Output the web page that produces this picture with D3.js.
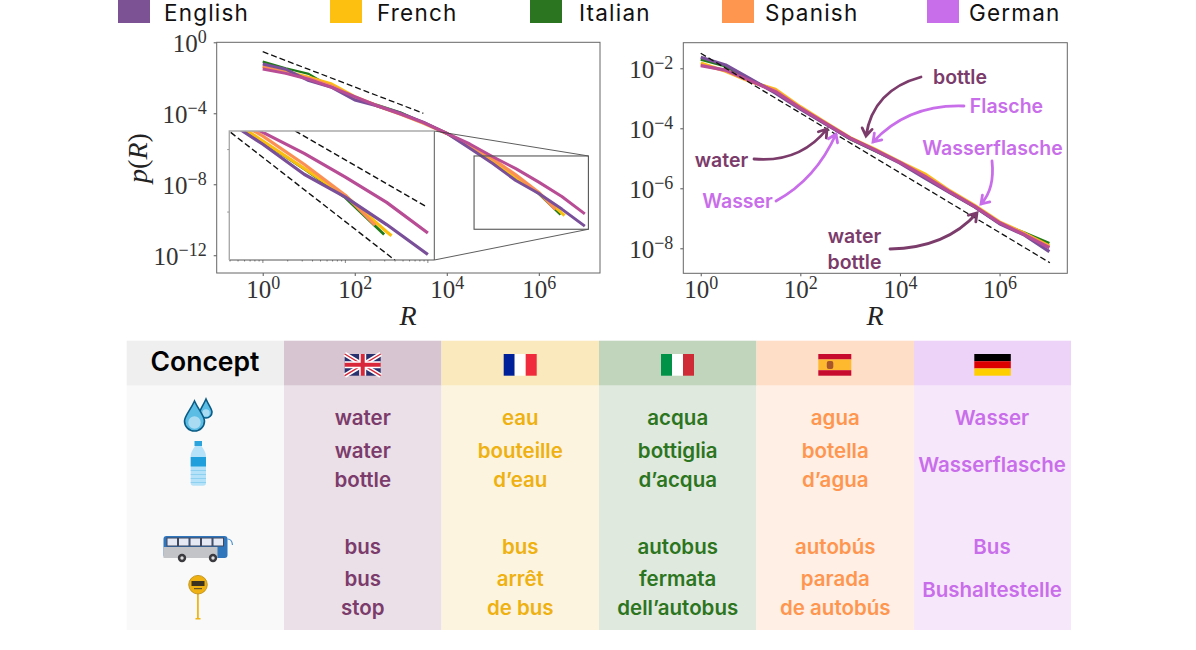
<!DOCTYPE html>
<html>
<head>
<meta charset="utf-8">
<script src="https://cdn.jsdelivr.net/npm/d3@7"></script>
<style>
  html, body { margin: 0; background: #fff; }
  text { font-family: Inter, "Noto Sans", sans-serif; }
  .math text, text.math { font-family: "Liberation Serif", serif; }
</style>
</head>
<body>
<div id="chart"></div>
<script>
// log10 values
const languages = ["English", "French", "Italian", "Spanish", "German"];
const rankExp = [0, 0.5, 1, 1.5, 2, 2.5, 3, 3.5, 4, 4.5, 5, 5.5, 6, 6.5, 7];

const leftEnglish = [-1.22, -1.52, -2.16, -2.54, -3.25, -3.59, -4.0, -4.51, -5.13, -5.97, -6.83, -7.79, -8.52, -9.40, -10.36];
const leftFrench = [-1.37, -1.65, -1.97, -2.35, -3.06, -3.59, -4.04, -4.56, -5.14, -5.85, -6.73, -7.6, -8.48, -9.63];
const leftItalian = [-1.09, -1.46, -1.78, -2.54, -3.15, -3.53, -3.96, -4.53, -5.13, -5.9, -6.75, -7.62, -8.54];
const leftSpanish = [-1.37, -1.71, -2.03, -2.46, -3.1, -3.59, -4.05, -4.56, -5.13, -5.8, -6.57, -7.47, -8.46];
const leftGerman = [-1.5, -1.75, -2.08, -2.54, -3.06, -3.59, -4.04, -4.53, -5.13, -5.73, -6.45, -7.12, -7.88, -8.69, -9.67];

const rightEnglish = [-1.63, -1.89, -2.35, -2.83, -3.36, -3.85, -4.34, -4.74, -5.16, -5.66, -6.14, -6.62, -7.18, -7.56, -8.11];
const rightFrench = [-1.82, -2.1, -2.45, -2.7, -3.28, -3.8, -4.31, -4.7, -5.12, -5.52, -6.08, -6.57, -7.12, -7.5, -7.92];
const rightItalian = [-1.7, -1.93, -2.4, -2.75, -3.34, -3.84, -4.36, -4.75, -5.14, -5.62, -6.13, -6.62, -7.17, -7.48, -7.83];
const rightSpanish = [-1.88, -2.08, -2.43, -2.74, -3.31, -3.82, -4.32, -4.72, -5.13, -5.58, -6.1, -6.59, -7.14, -7.52, -7.95];
const rightGerman = [-1.91, -2.06, -2.42, -2.78, -3.33, -3.83, -4.33, -4.72, -5.14, -5.6, -6.12, -6.6, -7.15, -7.55, -7.98];

// where the shorter series stop
const lastFrench = [6.56, -9.76];
const lastItalian = [6.47, -9.72];
const lastSpanish = [6.36, -9.42];

const dashLeft = [[0, -0.53], [3.49, -4.0]];
const dashInsetUpper = [[5.39, -6.4], [6.985, -8.83]];
const dashInsetLower = [[4.61, -6.45], [6.6, -10.54]];
const dashRight = [[0, -1.5], [7.01, -8.48]];

const conceptRows = [
  ["water", "water", "bottle", "bus", "bus", "stop"],
  ["eau", "bouteille", "d’eau", "bus", "arrêt", "de bus"],
  ["acqua", "bottiglia", "d’acqua", "autobus", "fermata", "dell’autobus"],
  ["agua", "botella", "d’agua", "autobús", "parada", "de autobús"],
  ["Wasser", "Wasserflasche", "Bus", "Bushaltestelle"]
];

const swatchColors = ["#7c5295", "#fdc010", "#2c7520", "#ff9650", "#c96eea"];
const lineColors = ["#7a4f9a", "#fbbf10", "#1f7a18", "#fb9055", "#b84c95"];
const textColors = ["#7b3b6b", "#eeb111", "#2c7520", "#ff9650", "#c96eea"];
const headColors = ["#d7c5d1", "#f9e9bd", "#c0d5bc", "#ffdec8", "#eed3f8"];
const bodyColors = ["#ebe0e8", "#fcf4df", "#e0e9de", "#ffefe5", "#f7e7fb"];

const svg = d3.select("#chart").append("svg").attr("width", 1196).attr("height", 650);

// legend
const legendSwatchX = [118, 330, 530, 722, 927];
const legendTextX = [164, 377, 579, 765, 969];
languages.forEach((name, i) => {
  svg.append("rect").attr("x", legendSwatchX[i]).attr("y", 0).attr("width", 32).attr("height", 23).attr("fill", swatchColors[i]);
  svg.append("text").attr("x", legendTextX[i]).attr("y", 21.3).attr("font-size", 22.5).attr("letter-spacing", 1.2).attr("fill", "#111").text(name);
});

// series pairs [rank exponent, p exponent]
const pairs = (vals, last) => {
  const out = vals.map((v, i) => [rankExp[i], v]);
  return last ? out.concat([last]) : out;
};
const leftSeries = [
  { key: 2, pts: pairs(leftItalian, lastItalian), w: 2.2 },
  { key: 1, pts: pairs(leftFrench, lastFrench), w: 3 },
  { key: 3, pts: pairs(leftSpanish, lastSpanish), w: 3.2 },
  { key: 0, pts: pairs(leftEnglish), w: 3 },
  { key: 4, pts: pairs(leftGerman), w: 3 }
];
const rightSeries = [
  { key: 2, pts: pairs(rightItalian), w: 2.8 },
  { key: 1, pts: pairs(rightFrench), w: 3.2 },
  { key: 3, pts: pairs(rightSpanish), w: 3.2 },
  { key: 0, pts: pairs(rightEnglish), w: 3.2 },
  { key: 4, pts: pairs(rightGerman), w: 3.2 }
];

function powerLabel(sel) {
  sel.each(function (d) {
    const e = Math.round(Math.log10(d));
    const t = d3.select(this).text(null).classed("math", true).attr("fill", "#333");
    t.append("tspan").attr("font-size", 25).text("10");
    t.append("tspan").attr("font-size", 18).attr("dy", -9).text(String(e).replace("-", "−"));
  });
}

function drawLines(g, series, x, y) {
  const line = d3.line().x(d => x(10 ** d[0])).y(d => y(10 ** d[1]));
  g.selectAll("path.curve").data(series).join("path")
    .attr("class", "curve")
    .attr("fill", "none")
    .attr("stroke", d => lineColors[d.key])
    .attr("stroke-width", d => d.w)
    .attr("stroke-linejoin", "round")
    .attr("d", d => line(d.pts));
  return line;
}

function dashed(g, pts, line, width) {
  g.append("path").attr("d", line(pts)).attr("fill", "none")
    .attr("stroke", "#111").attr("stroke-width", width).attr("stroke-dasharray", "6,3");
}

function panel(xDomain, xRange, yDomain, yRange, yTicks) {
  const x = d3.scaleLog().domain(xDomain).range(xRange);
  const y = d3.scaleLog().domain(yDomain).range(yRange);
  const g = svg.append("g");
  g.append("g").attr("transform", `translate(0,${yRange[1]})`)
    .call(d3.axisBottom(x).tickValues([1, 1e2, 1e4, 1e6]).tickSize(3).tickPadding(4))
    .call(a => a.select(".domain").remove())
    .call(a => a.selectAll("line").attr("stroke", "#555"))
    .call(a => a.selectAll("text").attr("dy", 0).attr("y", 24.5).call(powerLabel));
  g.append("g").attr("transform", `translate(${xRange[0]},0)`)
    .call(d3.axisLeft(y).tickValues(yTicks).tickSize(3).tickPadding(7))
    .call(a => a.select(".domain").remove())
    .call(a => a.selectAll("line").attr("stroke", "#555"))
    .call(a => a.selectAll("text").attr("dy", 0).attr("y", 9.5).call(powerLabel));
  g.append("rect").attr("x", xRange[0]).attr("y", yRange[0])
    .attr("width", xRange[1] - xRange[0]).attr("height", yRange[1] - yRange[0])
    .attr("fill", "none").attr("stroke", "#666").attr("stroke-width", 1);
  return { x, y, g };
}

// left panel
const L = panel([10 ** -1, 10 ** 7.33], [216.7, 600], [1, 1e-13], [42.3, 273], [1, 1e-4, 1e-8, 1e-12]);
const lineL = drawLines(L.g, leftSeries, L.x, L.y);
dashed(L.g, dashLeft, lineL, 1.3);

// zoom box and its inset, same data
const box = [10 ** 4.593, 10 ** 7.078, 10 ** -6.405, 10 ** -10.535];
const bx0 = L.x(box[0]), bx1 = L.x(box[1]), by0 = L.y(box[2]), by1 = L.y(box[3]);
const inset = { l: 229.3, r: 434.3, t: 131, b: 260 };

L.g.append("path").attr("fill", "none").attr("stroke", "#333").attr("stroke-width", 0.8)
  .attr("d", `M${inset.r},${inset.t}L${bx1},${by0}M${inset.r},${inset.b}L${bx1},${by1}`);
L.g.append("rect").attr("x", bx0).attr("y", by0).attr("width", bx1 - bx0).attr("height", by1 - by0)
  .attr("fill", "none").attr("stroke", "#555").attr("stroke-width", 1.1);

const ix = d3.scaleLog().domain([box[0], box[1]]).range([inset.l, inset.r]);
const iy = d3.scaleLog().domain([box[2], box[3]]).range([inset.t, inset.b]);
svg.append("clipPath").attr("id", "insetClip").append("rect")
  .attr("x", inset.l).attr("y", inset.t).attr("width", inset.r - inset.l).attr("height", inset.b - inset.t);
const ig = svg.append("g");
ig.append("rect").attr("x", inset.l).attr("y", inset.t).attr("width", inset.r - inset.l).attr("height", inset.b - inset.t)
  .attr("fill", "#fff");
const inner = ig.append("g").attr("clip-path", "url(#insetClip)");
const insetSeries = leftSeries.map(s => ({ key: s.key, pts: s.pts, w: s.key === 2 ? 2.8 : 3.2 }));
const lineI = drawLines(inner, insetSeries, ix, iy);
dashed(inner, dashInsetUpper, lineI, 1.4);
dashed(inner, dashInsetLower, lineI, 1.4);

const minorX = d3.range(4, 8).flatMap(e => d3.range(1, 10).map(m => m * 10 ** e))
  .filter(v => v > box[0] && v < box[1]);
ig.append("g").selectAll("line").data(minorX).join("line")
  .attr("x1", d => ix(d)).attr("x2", d => ix(d)).attr("y1", inset.b)
  .attr("y2", d => inset.b + (Number.isInteger(Math.log10(d)) ? 3 : 1.5))
  .attr("stroke", "#555").attr("stroke-width", 0.7);
ig.append("g").selectAll("line").data([1e-7, 1e-9]).join("line")
  .attr("x1", inset.l - 2).attr("x2", inset.l).attr("y1", d => iy(d)).attr("y2", d => iy(d))
  .attr("stroke", "#555").attr("stroke-width", 0.7);
ig.append("path").attr("fill", "none").attr("stroke", "#444").attr("stroke-width", 0.9)
  .attr("d", `M${inset.r},${inset.t}V${inset.b}H${inset.l}`);
ig.append("path").attr("fill", "none").attr("stroke", "#aaa").attr("stroke-width", 1.4)
  .attr("d", `M${inset.l},${inset.b}V${inset.t}H${inset.r}`);

svg.append("text").attr("class", "math").attr("x", 408).attr("y", 325).attr("text-anchor", "middle")
  .attr("font-size", 28).attr("font-style", "italic").attr("fill", "#222").text("R");
svg.append("text").attr("class", "math").attr("transform", "translate(147,158) rotate(-90)").attr("text-anchor", "middle")
  .attr("font-size", 28).attr("fill", "#222")
  .call(t => {
    t.append("tspan").attr("font-style", "italic").text("p");
    t.append("tspan").text("(");
    t.append("tspan").attr("font-style", "italic").text("R");
    t.append("tspan").text(")");
  });

// right panel
const R = panel([10 ** -0.35, 10 ** 7.36], [683.3, 1067.3], [10 ** -1.147, 10 ** -8.833], [42.7, 273.3], [1e-2, 1e-4, 1e-6, 1e-8]);
const lineR = drawLines(R.g, rightSeries, R.x, R.y);
dashed(R.g, dashRight, lineR, 1.3);
svg.append("text").attr("class", "math").attr("x", 875).attr("y", 325).attr("text-anchor", "middle")
  .attr("font-size", 28).attr("font-style", "italic").attr("fill", "#222").text("R");

// annotations
const plum = textColors[0], lilac = textColors[4];
function note(str, cx, cy, color) {
  svg.append("text").attr("x", cx).attr("y", cy).attr("dy", "0.35em").attr("text-anchor", "middle")
    .attr("font-size", 19.5).attr("font-weight", 600).attr("fill", color).text(str);
}
function arrow(x0, y0, cx, cy, x1, y1, color) {
  const a = Math.atan2(y1 - cy, x1 - cx), h = 9;
  const head = [a + 2.55, a - 2.55].map(t => [x1 + h * Math.cos(t), y1 + h * Math.sin(t)]);
  svg.append("path").attr("fill", "none").attr("stroke", color).attr("stroke-width", 2.8).attr("stroke-linecap", "round")
    .attr("d", `M${x0},${y0}Q${cx},${cy} ${x1},${y1}M${head[0]}L${x1},${y1}L${head[1]}`);
}
note("bottle", 960, 77, plum);
arrow(921, 77, 873, 90, 866, 136, plum);
note("Flasche", 1006.5, 106, lilac);
arrow(964, 106, 908, 104, 873, 142, lilac);
note("water", 721.5, 160, plum);
arrow(754, 159, 800, 163, 827, 129, plum);
note("Wasser", 737.5, 201, lilac);
arrow(776, 201, 816, 179, 836, 134, lilac);
note("Wasserflasche", 992.5, 148.5, lilac);
arrow(992, 161, 995, 189, 981, 204, lilac);
note("water", 854.5, 236, plum);
note("bottle", 854.5, 262.5, plum);
arrow(890, 249, 946, 248, 977, 213, plum);

// table
const colX = [284, 441.5, 599, 756.5, 914, 1071];
const headTop = 340.7, headBottom = 385.7, tableBottom = 630;
svg.append("rect").attr("x", 126.7).attr("y", headTop).attr("width", colX[0] - 126.7).attr("height", headBottom - headTop).attr("fill", "#efefef");
svg.append("rect").attr("x", 126.7).attr("y", headBottom).attr("width", colX[0] - 126.7).attr("height", tableBottom - headBottom).attr("fill", "#f9f9f9");
svg.append("text").attr("x", 205).attr("y", 362).attr("dy", "0.35em").attr("text-anchor", "middle")
  .attr("font-size", 26.5).attr("font-weight", 600).attr("fill", "#000").text("Concept");

const rowY = [418.3, 450.7, 480, 546.7, 579, 608.3];
const germanRowY = [418.3, 465, 546.7, 590];
languages.forEach((name, i) => {
  svg.append("rect").attr("x", colX[i]).attr("y", headTop).attr("width", colX[i + 1] - colX[i]).attr("height", headBottom - headTop).attr("fill", headColors[i]);
  svg.append("rect").attr("x", colX[i]).attr("y", headBottom).attr("width", colX[i + 1] - colX[i]).attr("height", tableBottom - headBottom).attr("fill", bodyColors[i]);
  const cx = i === 4 ? 992 : (colX[i] + colX[i + 1]) / 2;
  svg.append("g").selectAll("text").data(conceptRows[i]).join("text")
    .attr("x", cx)
    .attr("y", (d, j) => (i === 4 ? germanRowY : rowY)[j])
    .attr("dy", "0.35em").attr("text-anchor", "middle")
    .attr("font-size", 20.5).attr("font-weight", 600).attr("fill", textColors[i]).text(d => d);
});

// flags
function flag(x) {
  return svg.append("g").attr("transform", `translate(${x},354)`);
}
const uk = flag(344.7);
uk.append("rect").attr("width", 36).attr("height", 21.7).attr("fill", "#28306e");
uk.append("path").attr("d", "M0,0L36,21.7M36,0L0,21.7").attr("stroke", "#fff").attr("stroke-width", 4.5);
uk.append("path").attr("d", "M0,0L36,21.7M36,0L0,21.7").attr("stroke", "#d8283a").attr("stroke-width", 1.4);
uk.append("path").attr("d", "M18,0V21.7M0,10.85H36").attr("stroke", "#fff").attr("stroke-width", 7);
uk.append("path").attr("d", "M18,0V21.7M0,10.85H36").attr("stroke", "#d8283a").attr("stroke-width", 4);

const fr = flag(503.7);
[["#00209a", 0], ["#fff", 11], ["#ef2b3d", 22]].forEach(c => fr.append("rect").attr("x", c[1]).attr("width", 11).attr("height", 21.7).attr("fill", c[0]));
const it = flag(661);
[["#009246", 0], ["#fff", 11], ["#ce2b37", 22]].forEach(c => it.append("rect").attr("x", c[1]).attr("width", 11).attr("height", 21.7).attr("fill", c[0]));
const es = flag(818.3);
[["#c60b2e", 0, 5.5], ["#ffb92e", 5.5, 10.7], ["#c60b2e", 16.2, 5.5]].forEach(c => es.append("rect").attr("y", c[1]).attr("width", 33).attr("height", c[2]).attr("fill", c[0]));
es.append("rect").attr("x", 8.5).attr("y", 7).attr("width", 6.5).attr("height", 8).attr("rx", 2).attr("fill", "#a8562c");
const de = flag(974.3);
[["#000", 0], ["#dd0000", 7.23], ["#ffce00", 14.47]].forEach(c => de.append("rect").attr("y", c[1]).attr("width", 36.5).attr("height", 7.23).attr("fill", c[0]));

// icons
function drop(cx, top, bottom, w) {
  const r = w / 2, cy = bottom - r;
  svg.append("path")
    .attr("d", `M${cx},${top}C${cx + r * 0.4},${top + (cy - top) * 0.45} ${cx + r},${cy - r * 0.5} ${cx + r},${cy}A${r},${r} 0 0 1 ${cx - r},${cy}C${cx - r},${cy - r * 0.5} ${cx - r * 0.4},${top + (cy - top) * 0.45} ${cx},${top}Z`)
    .attr("fill", "#5bbce4").attr("stroke", "#0a5c86").attr("stroke-width", 1.6);
  svg.append("ellipse").attr("cx", cx).attr("cy", cy + r * 0.15).attr("rx", r * 0.62).attr("ry", r * 0.62).attr("fill", "#a9dcf3");
}
drop(206, 399, 418, 12);
drop(194.5, 401, 431, 20);

const bottle = svg.append("g");
bottle.append("rect").attr("x", 194.5).attr("y", 441).attr("width", 7.5).attr("height", 5).attr("fill", "#2ba3dc");
bottle.append("path").attr("d", "M195,446H201.5C204,450 206,452 206,457V483Q206,485.7 203,485.7H193.5Q190.7,485.7 190.7,483V457C190.7,452 192.5,450 195,446Z").attr("fill", "#b5e2f8");
bottle.append("rect").attr("x", 190.7).attr("y", 457).attr("width", 15.3).attr("height", 9.5).attr("fill", "#1fa0dc");
[470, 474, 478, 482].forEach(v => bottle.append("rect").attr("x", 190.7).attr("y", v).attr("width", 15.3).attr("height", 1).attr("fill", "#8ed0f0"));

const bus = svg.append("g");
bus.append("rect").attr("x", 163.5).attr("y", 536).attr("width", 64).attr("height", 22).attr("rx", 3).attr("fill", "#2f76bd");
bus.append("rect").attr("x", 163.5).attr("y", 547).attr("width", 54).attr("height", 11).attr("fill", "#c2c4c8");
[167, 178.5, 190, 201.5, 213].forEach(v => bus.append("rect").attr("x", v).attr("y", 538).attr("width", 10.5).attr("height", 8).attr("fill", "#e4e9f4").attr("stroke", "#40465c").attr("stroke-width", 1));
bus.append("path").attr("d", "M227.5,539Q232,539 232.5,545").attr("fill", "none").attr("stroke", "#4a90d0").attr("stroke-width", 1.2);
[182, 213].forEach(v => {
  bus.append("circle").attr("cx", v).attr("cy", 558).attr("r", 4.2).attr("fill", "#3a3a3f");
  bus.append("circle").attr("cx", v).attr("cy", 558).attr("r", 1.7).attr("fill", "#ddd");
});

const stop = svg.append("g");
stop.append("rect").attr("x", 197).attr("y", 590).attr("width", 1.8).attr("height", 28).attr("fill", "#f0b515");
stop.append("rect").attr("x", 195.5).attr("y", 618).attr("width", 5).attr("height", 1.5).attr("fill", "#f0b515");
stop.append("circle").attr("cx", 198).attr("cy", 584.7).attr("r", 9.3).attr("fill", "#eeb111").attr("stroke", "#b98a10").attr("stroke-width", 0.8);
stop.append("rect").attr("x", 191.5).attr("y", 581).attr("width", 13).attr("height", 5).attr("fill", "#3c3220");
stop.append("rect").attr("x", 194).attr("y", 588).attr("width", 8).attr("height", 1.2).attr("fill", "#6a5520");
</script>
</body>
</html>
